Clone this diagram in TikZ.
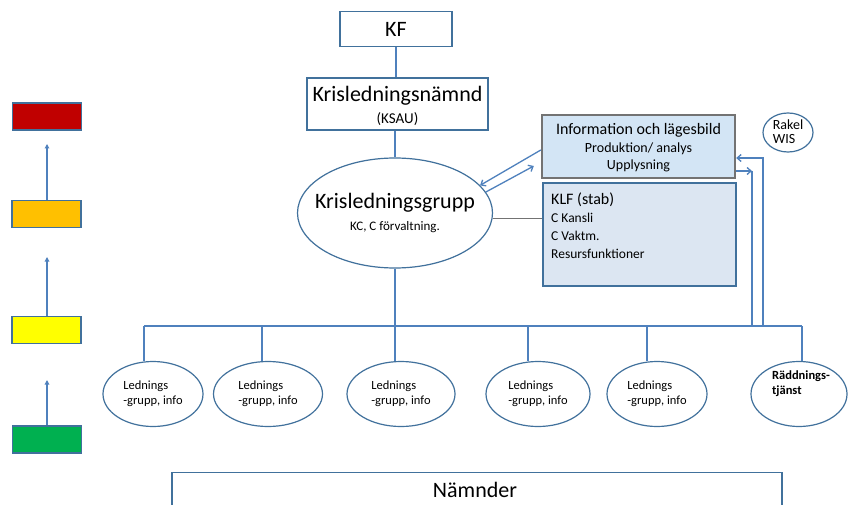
\documentclass[tikz,border=0pt]{standalone}
\usepackage{fontspec}
\setmainfont{Carlito}
\usetikzlibrary{shapes.geometric,arrows.meta}
\definecolor{ln}{HTML}{4F81BD}
\definecolor{bd}{HTML}{41719C}
\definecolor{infofill}{HTML}{D3E5F5}
\definecolor{klffill}{HTML}{DCE6F2}
\newcommand{\fsz}[1]{\fontsize{#1}{#1}\selectfont}
\tikzset{
  box/.style={draw=bd, line width=1.3pt, fill=white, inner sep=0pt, align=center},
  oval/.style={ellipse, draw=bd, line width=1.2pt, fill=white, inner sep=0pt, align=left},
  conn/.style={draw=ln, line width=1.3pt},
  tri/.style={conn, -{Triangle[width=4.5pt,length=4.5pt]}},
  barb/.style={conn, -{Straight Barb[width=7pt,length=4pt]}},
  lvl/.style={draw=bd, line width=1.2pt, inner sep=0pt, minimum width=69pt, minimum height=27pt},
  txt/.style={inner sep=0pt},
}
\begin{document}
\begin{tikzpicture}[x=1pt,y=-1pt]
\clip (0,0) rectangle (848,505);
\fill[white] (0,0) rectangle (848,505);

% top boxes
\node[box, minimum width=112pt, minimum height=35pt] (kf) at (396,29) {\fsz{22}KF};
\node[box, minimum width=181pt, minimum height=52pt] (kln) at (397.5,104) {};
\node[txt] (klnt) at (397.5,96) {\fsz{22}Krisledningsnämnd};
\node[txt] (klns) at (397.5,119) {\fsz{15}(KSAU)};
\node[oval, minimum width=195pt, minimum height=110pt] (kg) at (395,213) {};
\node[txt] (kgt) at (395,203) {\fsz{22}Krisledningsgrupp};
\node[txt] (kgs) at (395,227) {\fsz{13}KC, C förvaltning.};

\draw[conn] (kf.south) -- (kf.south |- kln.north);
\draw[conn] (kg.north |- kln.south) -- (kg.north);

% info and KLF boxes
\node[draw=gray!90!black, line width=2.4pt, fill=infofill, inner sep=0pt,
  minimum width=193pt, minimum height=63pt] (info) at (638.5,146.5) {};
\node[txt] (infoa) at (638.5,130) {\fsz{16}Information och lägesbild};
\node[txt] (infob) at (638.5,149) {\fsz{14}Produktion/ analys};
\node[txt] (infoc) at (638.5,166) {\fsz{14}Upplysning};
\node[draw=bd, line width=1.2pt, fill=klffill, inner sep=0pt,
  minimum width=193pt, minimum height=103pt] (klf) at (639.5,234.5) {};
\node[anchor=west, txt] (klfa) at (551,200) {\fsz{16}KLF (stab)};
\node[anchor=west, txt] (klfb) at (551,218) {\fsz{13.5}C Kansli};
\node[anchor=west, txt] (klfc) at (551,236) {\fsz{13.5}C Vaktm.};
\node[anchor=west, txt] (klfd) at (551,254) {\fsz{13.5}Resursfunktioner};

\node[oval, minimum width=50pt, minimum height=39pt] (rakel) at (788,132.5) {};
\node[txt, align=left] (rakelt) at (788,132) {\fsz{14}Rakel\\[2pt]\fsz{14}WIS};

% connectors ellipse <-> info
\draw[barb] ([yshift=-3.5pt]info.west) -- (kg.18);
\draw[barb] (kg.13) -- ([xshift=-7pt,yshift=-19.5pt]info.west);
\draw[draw=gray!90!black, line width=1.2pt] (kg.-3) -- (kg.-3 -| klf.west);

% bus
\coordinate (busL) at (144,326);
\coordinate (busR) at (802,326);
\draw[conn] (kg.south) -- (kg.south |- busL);
\draw[conn] (busL) -- (busR);

% lower ellipses
\node[oval, minimum width=100pt, minimum height=65pt] (l1) at (153,394) {\fsz{12.5}Lednings\\[3pt]\fsz{12.5}-grupp, info};
\node[oval, minimum width=109pt, minimum height=65pt] (l2) at (268,394) {\fsz{12.5}Lednings\\[3pt]\fsz{12.5}-grupp, info};
\node[oval, minimum width=108pt, minimum height=65pt] (l3) at (401,394) {\fsz{12.5}Lednings\\[3pt]\fsz{12.5}-grupp, info};
\node[oval, minimum width=104pt, minimum height=65pt] (l4) at (538,394) {\fsz{12.5}Lednings\\[3pt]\fsz{12.5}-grupp, info};
\node[oval, minimum width=100pt, minimum height=65pt] (l5) at (657,394) {\fsz{12.5}Lednings\\[3pt]\fsz{12.5}-grupp, info};
\node[oval, minimum width=96pt, minimum height=65pt] (rt) at (799,394) {};
\node[txt, align=left] (rtt) at (801,384) {\fsz{12.5}\bfseries Räddnings-\\[3pt]\fsz{12.5}\bfseries tjänst};

\coordinate (t1) at (144,326);
\coordinate (t2) at (262,326);
\coordinate (t3) at (395,326);
\coordinate (t4) at (528,326);
\coordinate (t5) at (647,326);
\coordinate (t6) at (802,326);
\draw[conn] (t1) -- (t1 |- l1.north);
\draw[conn] (t2) -- (t2 |- l2.north);
\draw[conn] (t3) -- (t3 |- l3.north);
\draw[conn] (t4) -- (t4 |- l4.north);
\draw[conn] (t5) -- (t5 |- l5.north);
\draw[conn] (t6) -- (t6 |- rt.north);

% right feedback lines
\coordinate (ra) at (763,158);
\coordinate (rb) at (752,171);
\coordinate (ba) at (763,326);
\coordinate (bb) at (752,326);
\draw[barb] (ba) -- (ra) -- (ra -| info.east);
\draw[barb] (rb -| info.east) -- (rb);
\draw[conn] (rb) -- (bb);

% level boxes
\node[lvl, fill={rgb,255:red,192;green,0;blue,0}] (red) at (47,116.5) {};
\node[lvl, fill={rgb,255:red,255;green,192;blue,0}] (orange) at (46.5,214) {};
\node[lvl, fill={rgb,255:red,255;green,255;blue,0}] (yellow) at (46.5,330) {};
\node[lvl, fill={rgb,255:red,0;green,176;blue,80}] (green) at (47,439.5) {};
\coordinate (a1) at (47,144);
\coordinate (a2) at (47,257);
\coordinate (a3) at (47,380);
\draw[tri] (orange.north -| a1) -- (a1);
\draw[tri] (yellow.north -| a2) -- (a2);
\draw[tri] (green.north -| a3) -- (a3);

% Nämnder
\node[draw=bd, line width=1.2pt, inner sep=0pt, minimum width=610pt, minimum height=60pt,
  anchor=north] (nam) at (477,472) {};
\node[txt] (namt) at (475,490) {\fsz{22}Nämnder};
\end{tikzpicture}
\end{document}
